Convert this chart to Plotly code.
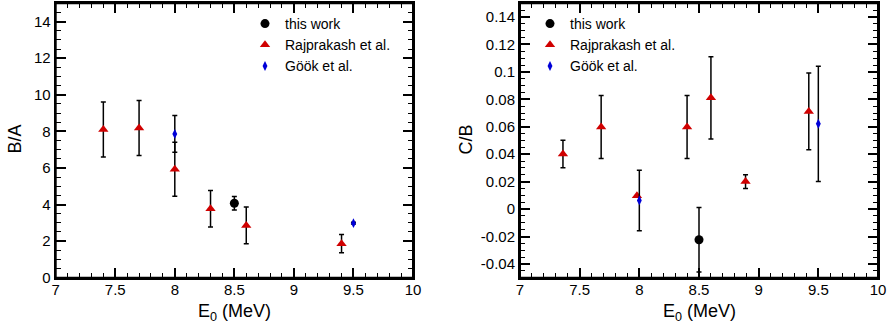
import plotly.graph_objects as go

# ---------------- data ----------------
# Left panel: B/A
ba_this_x = [8.5]
ba_this_y = [4.07]
ba_this_err = [0.37]

ba_raj_x = [7.4, 7.7, 8.0, 8.3, 8.6, 9.4]
ba_raj_y = [8.1, 8.18, 5.93, 3.77, 2.86, 1.86]
ba_raj_err = [1.5, 1.5, 1.48, 1.0, 1.0, 0.5]

ba_gook_x = [8.0, 9.5]
ba_gook_y = [7.86, 2.98]
ba_gook_err = [1.0, 0.05]

# Right panel: C/B
cb_this_x = [8.5]
cb_this_y = [-0.0223]
cb_this_err = [0.0235]

cb_raj_x = [7.36, 7.68, 7.98, 8.4, 8.6, 8.89, 9.42]
cb_raj_y = [0.0402, 0.0598, 0.0097, 0.0598, 0.0811, 0.0201, 0.0712]
cb_raj_err = [0.01, 0.023, 0.0, 0.023, 0.03, 0.005, 0.028]

cb_gook_x = [8.0, 9.5]
cb_gook_y = [0.0063, 0.0622]
cb_gook_err = [0.022, 0.042]

x_tickvals = [7, 7.5, 8, 8.5, 9, 9.5, 10]
x_ticktext = ["7", "7.5", "8", "8.5", "9", "9.5", "10"]
ba_tickvals = [0, 2, 4, 6, 8, 10, 12, 14]
ba_ticktext = ["0", "2", "4", "6", "8", "10", "12", "14"]
cb_tickvals = [-0.04, -0.02, 0, 0.02, 0.04, 0.06, 0.08, 0.1, 0.12, 0.14]
cb_ticktext = ["-0.04", "-0.02", "0", "0.02", "0.04", "0.06", "0.08", "0.1", "0.12", "0.14"]

labels = ["this work", "Rajprakash et al.", "Göök et al."]

# ---------------- style ----------------
FONT = "Arial, Liberation Sans, sans-serif"
RED = "#d00000"
BLUE = "#0000d8"

def err(vals):
    return dict(type="data", array=vals, visible=True, color="black",
                thickness=1.5, width=2.5)

fig = go.Figure()

def add_panel(xa, ya, legend, tx, ty, te, rx, ry, re, gx, gy, ge):
    fig.add_trace(go.Scatter(x=rx, y=ry, error_y=err(re), mode="markers",
                             name=labels[1], xaxis=xa, yaxis=ya, legend=legend,
                             legendrank=2,
                             marker=dict(symbol="triangle-up", size=9, color=RED)))
    fig.add_trace(go.Scatter(x=gx, y=gy, error_y=err(ge), mode="markers",
                             name=labels[2], xaxis=xa, yaxis=ya, legend=legend,
                             legendrank=3,
                             marker=dict(symbol="diamond-tall", size=7, color=BLUE)))
    fig.add_trace(go.Scatter(x=tx, y=ty, error_y=err(te), mode="markers",
                             name=labels[0], xaxis=xa, yaxis=ya, legend=legend,
                             legendrank=1,
                             marker=dict(symbol="circle", size=9, color="black")))

add_panel("x", "y", "legend", ba_this_x, ba_this_y, ba_this_err,
          ba_raj_x, ba_raj_y, ba_raj_err, ba_gook_x, ba_gook_y, ba_gook_err)
add_panel("x2", "y2", "legend2", cb_this_x, cb_this_y, cb_this_err,
          cb_raj_x, cb_raj_y, cb_raj_err, cb_gook_x, cb_gook_y, cb_gook_err)

common = dict(showline=True, linewidth=2, linecolor="black", mirror="allticks",
              ticks="inside", ticklen=10, tickwidth=1.5, tickcolor="black",
              showgrid=False, zeroline=False, automargin=False,
              tickfont=dict(family=FONT, size=15, color="black"))

def minor(dt, t0):
    return dict(dtick=dt, tick0=t0, ticks="inside", ticklen=5, tickwidth=1.2,
                tickcolor="black", showgrid=False)

xd1 = [55.7 / 889, 413 / 889]
xd2 = [520 / 889, 878 / 889]
yd = [1 - 277.7 / 327, 1 - 3.3 / 327]

frames = [
    dict(type="rect", xref="x domain", yref="y domain", x0=0, x1=1, y0=0, y1=1,
         line=dict(color="black", width=2), layer="above"),
    dict(type="rect", xref="x2 domain", yref="y2 domain", x0=0, x1=1, y0=0, y1=1,
         line=dict(color="black", width=2), layer="above"),
]

def ann(text, px, py, angle=0):
    return dict(text=text, x=px / 889, y=1 - py / 327, xref="paper", yref="paper",
                xanchor="center", yanchor="middle", textangle=angle,
                showarrow=False, font=dict(family=FONT, size=18))

fig.update_layout(
    width=889, height=327, autosize=False,
    margin=dict(l=0, r=0, t=0, b=0, autoexpand=False),
    plot_bgcolor="white", paper_bgcolor="white",
    font=dict(family=FONT, color="black"),
    xaxis=dict(domain=xd1, range=[7, 10], tickvals=x_tickvals, ticktext=x_ticktext,
               anchor="y", minor=minor(0.1, 7), ticklabelstandoff=-3, **common),
    yaxis=dict(domain=yd, range=[0, 15], tickvals=ba_tickvals, ticktext=ba_ticktext,
               anchor="x", minor=minor(0.5, 0), **common),
    xaxis2=dict(domain=xd2, range=[7, 10], tickvals=x_tickvals, ticktext=x_ticktext,
                anchor="y2", minor=minor(0.1, 7), ticklabelstandoff=-3, **common),
    yaxis2=dict(domain=yd, range=[-0.05, 0.15], tickvals=cb_tickvals, ticktext=cb_ticktext,
                anchor="x2", minor=minor(0.005, 0), **common),
    legend=dict(x=245 / 889, y=1 - 8 / 327, xanchor="left", yanchor="top",
                bgcolor="rgba(0,0,0,0)", font=dict(family=FONT, size=14),
                itemwidth=30, tracegroupgap=0),
    legend2=dict(x=530 / 889, y=1 - 8 / 327, xanchor="left", yanchor="top",
                 bgcolor="rgba(0,0,0,0)", font=dict(family=FONT, size=14),
                 itemwidth=30, tracegroupgap=0),
    shapes=frames,
    annotations=[
        ann("B/A", 14, 139.5, -90),
        ann("C/B", 465, 139.5, -90),
        ann("E<sub>0</sub> (MeV)", 234, 312),
        ann("E<sub>0</sub> (MeV)", 699, 312),
    ],
)

fig.write_html("out.html")
